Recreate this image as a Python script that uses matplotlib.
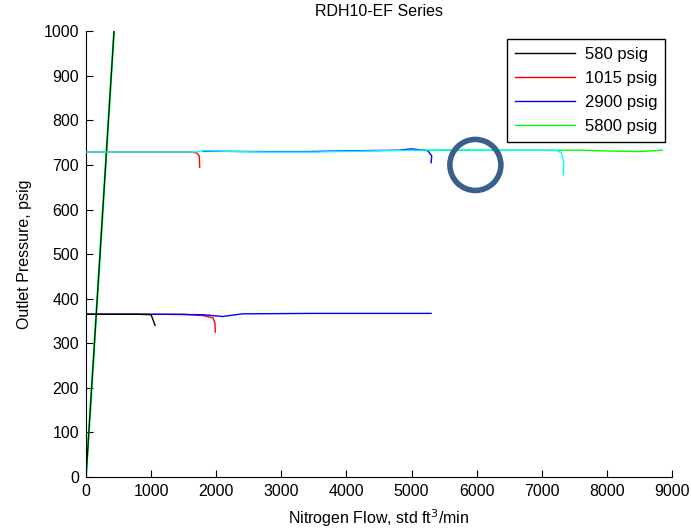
import matplotlib
matplotlib.use('Agg')
import matplotlib.pyplot as plt

plt.rcParams['font.family'] = ['Liberation Sans', 'DejaVu Sans']

# steep start-up ramp (shared by all series)
ramp_flow = [0, 430]
ramp_pres = [0, 1000]

# 580 psig (black)
flow_580 = [0, 400, 800, 1000, 1030, 1060]
pres_580 = [365, 365, 365, 364, 352, 340]

# 1015 psig (red)
flow_1015_hi = [0, 600, 1200, 1600, 1700, 1740, 1745]
pres_1015_hi = [729, 729, 729, 729, 727, 720, 695]
flow_1015_lo = [0, 800, 1500, 1800, 1950, 1980, 1985]
pres_1015_lo = [365, 365, 365, 362, 357, 345, 325]

# 2900 psig (blue)
flow_2900_hi = [1800, 2600, 3400, 4200, 4800, 5000, 5250, 5310, 5300]
pres_2900_hi = [731, 730, 730, 732, 733, 736, 732, 720, 705]
flow_2900_lo = [0, 1200, 1800, 2100, 2400, 3500, 4500, 5300]
pres_2900_lo = [365, 365, 364, 360, 366, 367, 367, 367]

# 5800 psig (green)
flow_5800 = [5000, 6000, 7000, 7600, 8100, 8500, 8850]
pres_5800 = [733, 733, 733, 733, 731, 730, 733]

# extra cyan trace (not in legend)
flow_cyan = [0, 1700, 1800, 2300, 2800, 3500, 4200, 5000, 5600, 6400, 7200, 7300, 7340, 7330]
pres_cyan = [729, 729, 732, 730, 729, 729, 731, 733, 734, 733, 733, 728, 705, 678]

circle_x = [5980]
circle_y = [700]

x_ticks = list(range(0, 9001, 1000))
y_ticks = list(range(0, 1001, 100))

fig = plt.figure(figsize=(6.91, 5.31), dpi=100)
ax = fig.add_axes([0.1245, 0.1017, 0.848, 0.8395])

ax.plot(ramp_flow, ramp_pres, color='cyan', lw=1.3)
ax.plot(ramp_flow, ramp_pres, color='#00ff00', lw=1.3)
ax.plot(flow_cyan, pres_cyan, color='cyan', lw=1.0, zorder=3)
ax.plot(flow_5800, pres_5800, color='#00ff00', lw=1.0, label='5800 psig', zorder=2)
ax.plot(flow_2900_hi, pres_2900_hi, color='blue', lw=1.0, zorder=2)
ax.plot(flow_2900_lo, pres_2900_lo, color='blue', lw=1.0, label='2900 psig')
ax.plot(flow_1015_hi, pres_1015_hi, color='red', lw=1.0, zorder=2)
ax.plot(flow_1015_lo, pres_1015_lo, color='red', lw=1.0, label='1015 psig', zorder=1)
ax.plot(flow_580, pres_580, color='black', lw=1.0, label='580 psig')
ax.plot(ramp_flow, ramp_pres, color='black', lw=0.8)

ax.scatter(circle_x, circle_y, s=1350, facecolors='none', edgecolors='#3b5e8c',
           linewidths=4, zorder=5)

ax.set_xlim(0, 9000)
ax.set_ylim(0, 1000)
ax.set_xticks(x_ticks)
ax.set_yticks(y_ticks)
ax.tick_params(direction='in', length=5, labelsize=11.5, pad=5)
ax.spines['top'].set_visible(False)
ax.spines['right'].set_visible(False)

ax.set_title('RDH10-EF Series', fontsize=11.5, pad=11)
ax.set_xlabel('Nitrogen Flow, std ft$^3$/min', fontsize=11.5, labelpad=6)
ax.set_ylabel('Outlet Pressure, psig', fontsize=11.5, labelpad=8)

handles, labels = ax.get_legend_handles_labels()
order = ['580 psig', '1015 psig', '2900 psig', '5800 psig']
hmap = dict(zip(labels, handles))
leg = ax.legend([hmap[k] for k in order], order, loc='upper right',
                bbox_to_anchor=(0.988, 0.982), borderaxespad=0, fontsize=12,
                fancybox=False, framealpha=1, edgecolor='black', handlelength=3.6,
                borderpad=0.45, labelspacing=0.55, handletextpad=0.6)
leg.get_frame().set_linewidth(1.0)

plt.savefig('out.png', dpi=100)
plt.close()
